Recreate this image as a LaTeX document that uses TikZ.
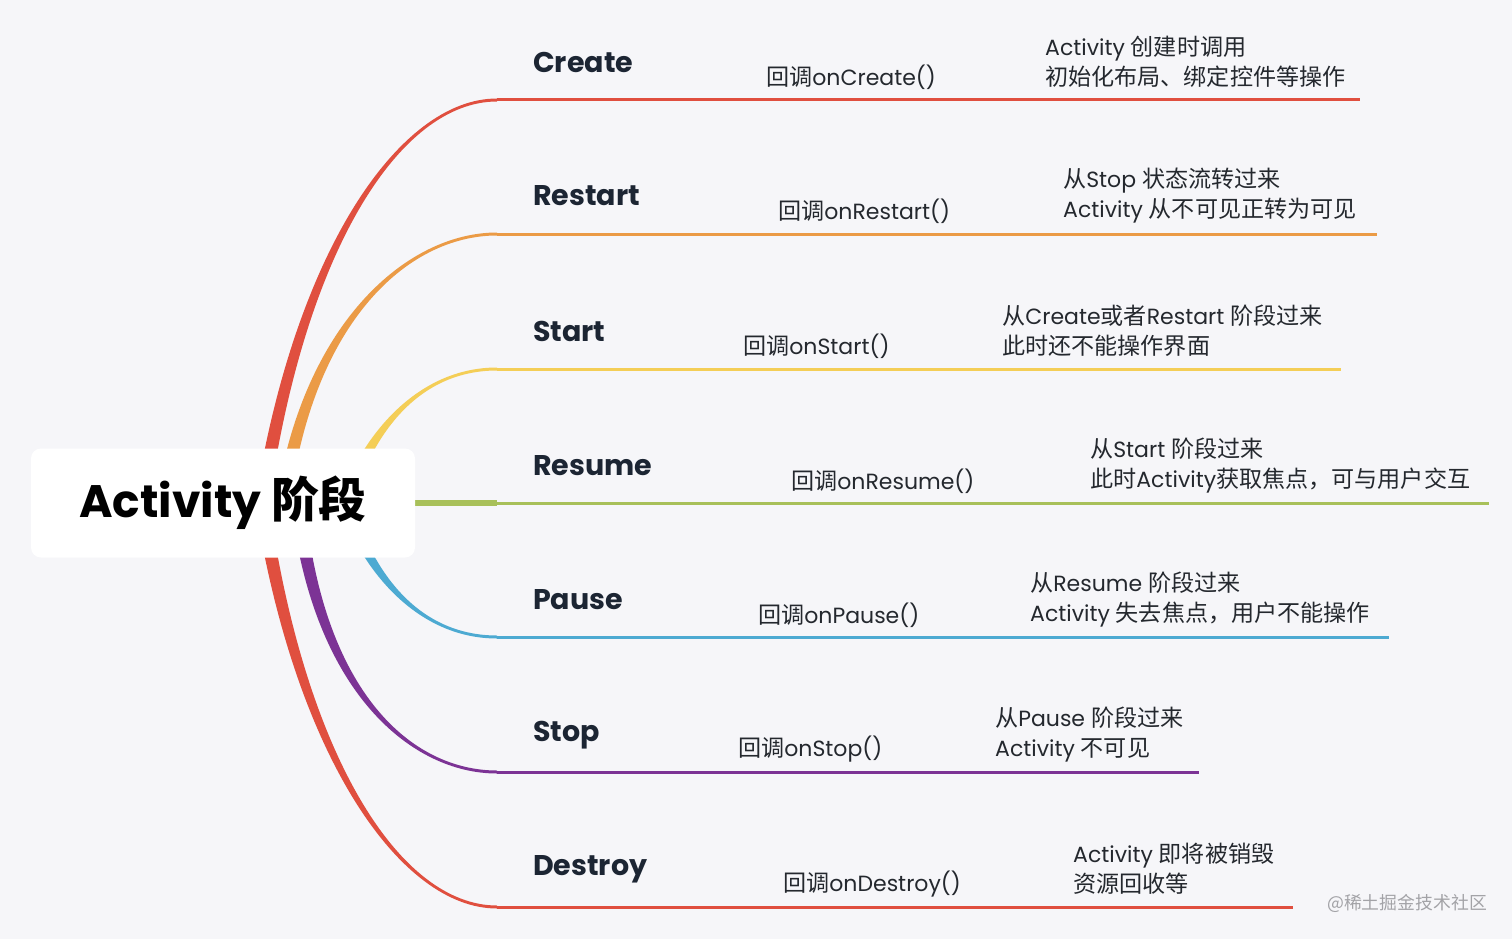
\documentclass[tikz,border=0pt]{standalone}
\usepackage{fontspec}
\usetikzlibrary{calc}
\setmainfont{Poppins}
\newfontfamily\cjk[Scale=1.05]{Noto Sans CJK SC}
\definecolor{paper}{HTML}{F6F6F9}
\definecolor{ink}{HTML}{1C2533}
\definecolor{body}{HTML}{24282E}
\definecolor{cred}{HTML}{E04F3F}
\definecolor{corange}{HTML}{EB9B46}
\definecolor{cyellow}{HTML}{F4CE57}
\definecolor{cgreen}{HTML}{A8C05A}
\definecolor{cblue}{HTML}{4DAAD2}
\definecolor{cpurple}{HTML}{7C3395}
\definecolor{wmgray}{HTML}{A3A3A7}
\tikzset{rootbox/.style={fill=white,rounded corners=10,minimum width=384,minimum height=109,
  font=\fontsize{45.5}{50}\selectfont\bfseries,text=black},
stage/.style={font=\fontsize{28.5}{32}\selectfont\bfseries,text=ink,anchor=west,inner sep=0},
cb/.style={font=\fontsize{22}{30}\selectfont,text=body,anchor=west,inner sep=0},
note/.style={cb,align=left},
twig/.style={line width=3},
wm/.style={font=\fontsize{17}{20}\selectfont,text=wmgray,inner sep=0}}
\newcommand{\limbfill}[7]{\fill[#1] ($(#2)+(-7,0)$) .. controls ($(#2)+(#3)+(-5,0)$) and ($(#4)+(#5,#6)$) .. ($(#4)+(0,#6)$)
  -- ($(#4)+(0,#7)$) .. controls ($(#4)+(#5,#7)$) and ($(#2)+(#3)+(5,0)$) .. ($(#2)+(7,0)$) -- cycle;}

\begin{document}
\begin{tikzpicture}[x=1pt,y=-1pt]
\fill[paper] (0,0) rectangle (1512,939);
\useasboundingbox (0,0) rectangle (1512,939);

\coordinate (create-root) at (262,503);   \coordinate (create-end) at (497,100);  \coordinate (create-tip) at (1360,100);
\coordinate (restart-root) at (283,503);  \coordinate (restart-end) at (497,234); \coordinate (restart-tip) at (1377,234);
\coordinate (start-root) at (345,503);    \coordinate (start-end) at (497,369);   \coordinate (start-tip) at (1341,369);
\coordinate (resume-root) at (300,503);   \coordinate (resume-end) at (497,503);  \coordinate (resume-tip) at (1489,503);
\coordinate (pause-root) at (345,503);    \coordinate (pause-end) at (497,637);   \coordinate (pause-tip) at (1389,637);
\coordinate (stop-root) at (298,503);     \coordinate (stop-end) at (497,772);    \coordinate (stop-tip) at (1199,772);
\coordinate (destroy-root) at (262,503);  \coordinate (destroy-end) at (497,907); \coordinate (destroy-tip) at (1293,907);

\limbfill{cred}{create-root}{38,-253}{create-end}{-97}{-1.5}{1.5}
\limbfill{corange}{restart-root}{25,-180}{restart-end}{-90}{-1.5}{1.5}
\limbfill{cyellow}{start-root}{25,-75}{start-end}{-75}{-1.5}{1.5}
\limbfill{cblue}{pause-root}{25,75}{pause-end}{-75}{1.5}{-1.5}
\limbfill{cpurple}{stop-root}{20,190}{stop-end}{-85}{1.5}{-1.5}
\limbfill{cred}{destroy-root}{38,253}{destroy-end}{-97}{1.5}{-1.5}
\draw[cgreen,line width=6.5] (resume-root) -- (resume-end);

\draw[twig,cred] (create-end) -- (create-tip);
\draw[twig,corange] (restart-end) -- (restart-tip);
\draw[twig,cyellow] (start-end) -- (start-tip);
\draw[twig,cgreen] (resume-end) -- (resume-tip);
\draw[twig,cblue] (pause-end) -- (pause-tip);
\draw[twig,cpurple] (stop-end) -- (stop-tip);
\draw[twig,cred] (destroy-end) -- (destroy-tip);

\node[rootbox] (root) at (223,503) {\raisebox{-3pt}{Activity {\cjk\bfseries 阶段}}};

\node[stage] (create-lbl) at (533,62) {Create};
\node[cb] (create-cb) at (766,77) {{\cjk 回调}onCreate()};
\node[note] (create-note) at (1045,62) {Activity {\cjk 创建时调用}\\{\cjk 初始化布局、绑定控件等操作}};

\node[stage] (restart-lbl) at (533,196) {Restart};
\node[cb] (restart-cb) at (778,211) {{\cjk 回调}onRestart()};
\node[note] (restart-note) at (1063,196) {{\cjk 从}Stop {\cjk 状态流转过来}\\Activity {\cjk 从不可见正转为可见}};

\node[stage] (start-lbl) at (533,331) {Start};
\node[cb] (start-cb) at (743,346) {{\cjk 回调}onStart()};
\node[note] (start-note) at (1002,331) {{\cjk 从}Create{\cjk 或者}Restart {\cjk 阶段过来}\\{\cjk 此时还不能操作界面}};

\node[stage] (resume-lbl) at (533,466) {Resume};
\node[cb] (resume-cb) at (791,481) {{\cjk 回调}onResume()};
\node[note] (resume-note) at (1090,466) {{\cjk 从}Start {\cjk 阶段过来}\\{\cjk 此时}Activity{\cjk 获取焦点，可与用户交互}};

\node[stage] (pause-lbl) at (533,600) {Pause};
\node[cb] (pause-cb) at (758,615) {{\cjk 回调}onPause()};
\node[note] (pause-note) at (1030,600) {{\cjk 从}Resume {\cjk 阶段过来}\\Activity {\cjk 失去焦点，用户不能操作}};

\node[stage] (stop-lbl) at (533,735) {Stop};
\node[cb] (stop-cb) at (738,749) {{\cjk 回调}onStop()};
\node[note] (stop-note) at (995,735) {{\cjk 从}Pause {\cjk 阶段过来}\\Activity {\cjk 不可见}};

\node[stage] (destroy-lbl) at (533,869) {Destroy};
\node[cb] (destroy-cb) at (783,884) {{\cjk 回调}onDestroy()};
\node[note] (destroy-note) at (1073,869) {Activity {\cjk 即将被销毁}\\{\cjk 资源回收等}};

\node[wm] (credit) at (1407,903) {{\cjk @稀土掘金技术社区}};
\end{tikzpicture}
\end{document}
